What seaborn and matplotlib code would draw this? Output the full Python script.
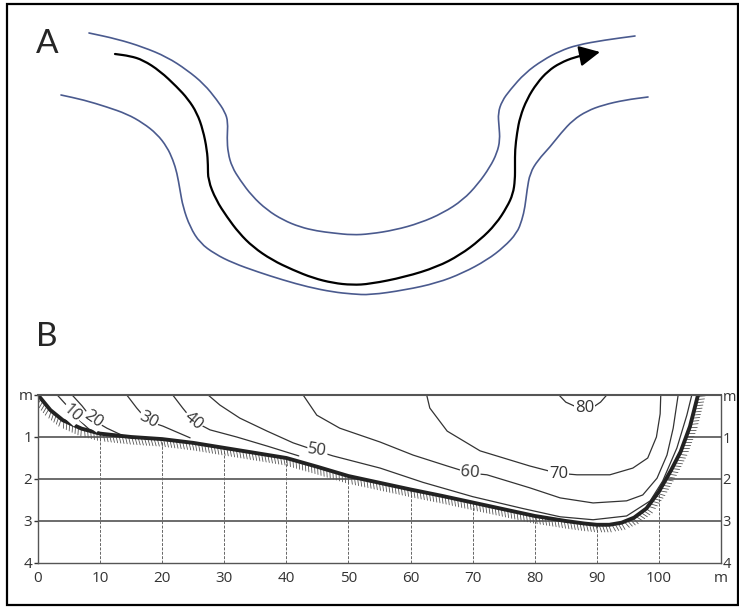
import numpy as np
import pandas as pd
import seaborn as sns
import matplotlib.pyplot as plt
import matplotlib.patheffects as pe
from matplotlib.path import Path
from matplotlib.patches import PathPatch

# ---- panel A: channel planform, traced in image pixels (x right, y down)
top_bank_x = [89, 117, 143, 167, 187, 204, 217, 225, 228, 227, 228, 232, 240, 252, 267, 283, 300, 317,
              333, 352, 370, 395, 420, 443, 463, 478, 490, 497, 500, 499, 498, 502, 510, 525, 543, 560,
              577, 605, 635]
top_bank_y = [33, 39, 47, 57, 70, 84, 100, 112, 122, 138, 153, 167, 180, 196, 210, 220, 227, 231,
              233, 235, 234, 230, 223, 213, 200, 184, 167, 153, 140, 126, 113, 101, 90, 73, 60, 51,
              45, 40, 36]
low_bank_x = [61, 84, 107, 127, 143, 157, 167, 173, 177, 180, 183, 190, 200, 215, 233, 258, 283, 308,
              333, 352, 370, 405, 437, 463, 487, 504, 517, 522, 525, 527, 530, 538, 550, 561, 573, 587,
              603, 625, 648]
low_bank_y = [95, 100, 107, 114, 123, 134, 147, 160, 173, 190, 207, 227, 243, 254, 263, 272, 280, 287,
              292, 294, 295, 290, 283, 273, 260, 247, 233, 220, 207, 190, 173, 160, 147, 133, 120, 111,
              105, 100, 97]
thalweg_x = [115, 130, 143, 160, 177, 188, 197, 203, 207, 208, 208, 216, 227, 239, 253, 272, 293, 313,
             333, 352, 370, 405, 437, 460, 480, 496, 507, 513, 515, 515, 515, 517, 520, 527, 537, 548,
             560, 575, 589]
thalweg_y = [54, 56, 60, 71, 87, 99, 113, 130, 150, 165, 180, 200, 217, 233, 247, 260, 270, 278,
             283, 285, 284, 277, 267, 255, 240, 224, 207, 194, 180, 165, 150, 133, 117, 99, 83, 71,
             63, 57, 54.2]
arrow_tip = (600, 52)

# ---- panel B: velocity isolines in a cross-section (x in m, depth in m)
bed_x = [0, 2, 4, 7, 10, 15, 20, 25, 30, 35, 40, 45, 50, 55, 60, 65, 70, 75, 80, 85, 88, 90, 92,
         94, 96, 98, 100, 102, 103.5, 105, 106.3]
bed_d = [0, 0.36, 0.6, 0.8, 0.92, 1.0, 1.05, 1.14, 1.26, 1.38, 1.5, 1.71, 1.93, 2.09, 2.25, 2.4,
         2.56, 2.72, 2.88, 3.0, 3.06, 3.09, 3.09, 3.04, 2.92, 2.7, 2.3, 1.78, 1.35, 0.75, 0]

iso = {
    10: ([3.1, 4.7, 5.5, 6.8, 8.4], [0, 0.26, 0.43, 0.62, 0.84]),
    20: ([5.5, 7.1, 8.9, 11.1, 13.7], [0, 0.26, 0.6, 0.79, 0.97]),
    30: ([14.3, 15.9, 17.7, 20.1, 24.5], [0, 0.31, 0.62, 0.74, 1.02]),
    40: ([21.7, 23.3, 25.0, 27.7, 32.0, 37.0, 42.0], [0, 0.31, 0.62, 0.83, 1.0, 1.22, 1.45]),
    50: ([27.4, 29.3, 32.5, 36.9, 41.1, 44.9, 47.5, 55.1, 62, 70, 78, 84.1, 89.4, 94.8, 98.6,
          100.6, 102.9, 104.5, 105.3],
         [0, 0.24, 0.55, 0.86, 1.14, 1.33, 1.45, 1.74, 2.08, 2.42, 2.7, 2.9, 2.97, 2.88, 2.52,
          2.05, 1.26, 0.48, 0]),
    60: ([42.7, 44.9, 48.6, 55.1, 60.4, 65.9, 69.6, 72.3, 79.2, 84.1, 89.4, 94.8, 97.4, 99.7,
          101.3, 102.3, 103.1],
         [0, 0.48, 0.79, 1.12, 1.43, 1.69, 1.86, 1.9, 2.21, 2.45, 2.57, 2.52, 2.38, 1.98, 1.43,
          0.79, 0]),
    70: ([62.6, 63.1, 65.9, 71.2, 79.2, 83.6, 86.8, 92.1, 95.8, 98.2, 99.6, 100.2, 100.3],
         [0, 0.31, 0.86, 1.33, 1.69, 1.86, 1.9, 1.9, 1.74, 1.5, 1.0, 0.45, 0]),
    80: ([83.9, 85.0, 86.5, 88.1, 89.6, 90.6, 91.6], [0, 0.17, 0.27, 0.3, 0.27, 0.17, 0]),
}
# label position (x, depth) and rotation
iso_labels = {
    10: (5.5, 0.43, -42), 20: (8.9, 0.58, -35), 30: (17.8, 0.6, -28), 40: (25.0, 0.62, -40),
    50: (45.0, 1.33, -8), 60: (69.6, 1.86, -4), 70: (83.8, 1.87, 0), 80: (88.0, 0.31, 0),
}

x_ticks = list(range(0, 111, 10))
x_tick_labels = [str(v) for v in range(0, 101, 10)] + ['m']
d_ticks = [0, 1, 2, 3, 4]
d_tick_labels = ['m', '1', '2', '3', '4']


def smooth_path(xs, ys):
    # quadratic bezier through the midpoints, traced points act as control points
    pts = np.column_stack([xs, ys]).astype(float)
    mids = (pts[:-1] + pts[1:]) / 2
    verts = [pts[0], mids[0]]
    codes = [Path.MOVETO, Path.LINETO]
    for i in range(1, len(pts) - 1):
        verts += [pts[i], mids[i]]
        codes += [Path.CURVE3, Path.CURVE3]
    verts.append(pts[-1])
    codes.append(Path.LINETO)
    return Path(verts, codes)


sns.set_theme(style='white')
plt.rcParams['font.family'] = ['Open Sans', 'DejaVu Sans']

W, H = 739, 607
fig = plt.figure(figsize=(W / 100, H / 100), dpi=100)

# panel A, drawn in pixel space
ax_a = fig.add_axes([0, 0, 1, 1])
ax_a.set_xlim(0, W)
ax_a.set_ylim(H, 0)
ax_a.axis('off')
bank_col = '#4a5a8e'
for bx, by in [(top_bank_x, top_bank_y), (low_bank_x, low_bank_y)]:
    ax_a.add_patch(PathPatch(smooth_path(bx, by), fill=False, edgecolor=bank_col, linewidth=1.2,
                             capstyle='round', joinstyle='round'))
ax_a.add_patch(PathPatch(smooth_path(thalweg_x, thalweg_y), fill=False, edgecolor='black',
                         linewidth=1.6, capstyle='round', joinstyle='round'))
ax_a.annotate('', xy=arrow_tip, xytext=(thalweg_x[-1], thalweg_y[-1]),
              arrowprops=dict(arrowstyle='-|>,head_length=0.9,head_width=0.45', color='black',
                              lw=1.6, shrinkA=0, shrinkB=0, mutation_scale=14))

fig.patches.append(plt.Rectangle((7 / W, 2 / H), 731 / W, 601 / H, transform=fig.transFigure,
                                 fill=False, edgecolor='black', linewidth=1.6))
fig.text(47 / W, 1 - 44 / H, 'A', fontsize=24, family='Lato', ha='center', va='center')
fig.text(47 / W, 1 - 337 / H, 'B', fontsize=24, family='Lato', ha='center', va='center')

# panel B
ax = fig.add_axes([38 / W, (H - 563) / H, (721 - 38) / W, (563 - 395) / H])
ax.set_xlim(0, 110)
ax.set_ylim(4, 0)
ax.set_facecolor('white')

for v in [1, 2, 3]:
    ax.axhline(v, color='#444444', linewidth=1.1, zorder=1)
for v in range(10, 101, 10):
    ax.axvline(v, color='#666666', linewidth=0.7, linestyle=(0, (3, 1.5)), zorder=1)

ax.fill_between(bed_x, 0, bed_d, color='white', zorder=2, linewidth=0)

line_col = '#333333'
for k, (xs, ds) in iso.items():
    sns.lineplot(x=xs, y=ds, sort=False, estimator=None, ax=ax, color=line_col, linewidth=0.9, zorder=3)

# rough bed: hatch ticks below a dark band
sns.lineplot(x=bed_x, y=bed_d, sort=False, estimator=None, ax=ax, color='#555555', linewidth=0.6,
             zorder=3, path_effects=[pe.TickedStroke(spacing=2.3, angle=-70, length=2.4)])
sns.lineplot(x=bed_x, y=bed_d, sort=False, estimator=None, ax=ax, color='#222222', linewidth=2.8,
             zorder=4)

for k, (lx, ld, rot) in iso_labels.items():
    ax.text(lx, ld, str(k), fontsize=12, color='#333333', ha='center', va='center', rotation=rot,
            rotation_mode='anchor', zorder=6,
            bbox=dict(boxstyle='square,pad=0.05', fc='white', ec='none'))

ax.set_xticks(x_ticks)
ax.set_xticklabels(x_tick_labels)
ax.set_yticks(d_ticks)
ax.set_yticklabels(d_tick_labels)
ax.tick_params(axis='x', length=0, pad=6, labelsize=11, colors='#333333')
ax.tick_params(axis='y', left=True, right=False, length=3, width=1, pad=1, labelsize=11,
               colors='#333333')
for s in ax.spines.values():
    s.set_color('#555555')
    s.set_linewidth(1.0)
    s.set_zorder(5)
ax.spines['top'].set_linewidth(1.5)
ax.set_xlabel('')
ax.set_ylabel('')

# depth labels repeated on the right side
ax_r = ax.twinx()
ax_r.set_ylim(4, 0)
ax_r.set_yticks(d_ticks)
ax_r.set_yticklabels(d_tick_labels)
ax_r.tick_params(axis='y', length=0, pad=1, labelsize=10.5, colors='#333333')
for s in ax_r.spines.values():
    s.set_visible(False)
ax_r.grid(False)

fig.savefig('out.png', dpi=100)
